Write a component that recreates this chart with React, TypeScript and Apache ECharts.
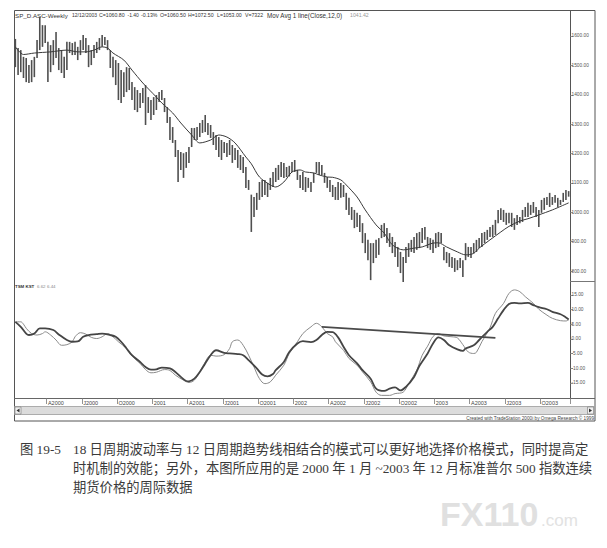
import React, { useEffect, useRef } from "react";
import * as echarts from "echarts";

// ---------- categories: weekly bars, first bar 2000-01-14, last 2003-12-12 ----------
const FIRST_WEEK = Date.UTC(2000, 0, 14);
const WEEK_COUNT = 205;
const weekDates: string[] = [];
for (let i = 0; i < WEEK_COUNT; i++) {
  const d = new Date(FIRST_WEEK + i * 7 * 86400000);
  weekDates.push(
    `${d.getUTCFullYear()}-${String(d.getUTCMonth() + 1).padStart(2, "0")}-${String(d.getUTCDate()).padStart(2, "0")}`
  );
}

// ---------- weekly price bars ----------
const highs = [
  1590, 1559, 1552, 1529, 1525, 1501, 1518, 1529, 1586, 1665, 1637, 1637, 1580, 1569, 1586, 1614, 1559, 1552, 1529, 1580,
  1580, 1576, 1580, 1563, 1586, 1603, 1593, 1569, 1552, 1569, 1580, 1593, 1603, 1597, 1586, 1552, 1529, 1518, 1508, 1484,
  1477, 1494, 1491, 1443, 1426, 1416, 1406, 1423, 1433, 1392, 1382, 1392, 1399, 1409, 1416, 1389, 1358, 1324, 1290, 1246,
  1212, 1205, 1201, 1205, 1222, 1287, 1287, 1290, 1304, 1314, 1331, 1304, 1297, 1273, 1263, 1256, 1246, 1239, 1236, 1246,
  1229, 1219, 1212, 1195, 1188, 1154, 1110, 1060, 1052, 1066, 1103, 1110, 1110, 1100, 1117, 1137, 1151, 1161, 1171, 1168,
  1154, 1158, 1171, 1178, 1144, 1127, 1137, 1120, 1117, 1103, 1134, 1171, 1171, 1161, 1134, 1120, 1110, 1093, 1086, 1103,
  1100, 1093, 1066, 1049, 1018, 1008, 998, 991, 963, 929, 906, 895, 895, 906, 912, 957, 963, 946, 929, 916,
  899, 882, 865, 848, 882, 895, 906, 916, 929, 933, 946, 950, 916, 912, 906, 929, 933, 929, 882, 865,
  861, 848, 844, 837, 844, 837, 895, 882, 882, 895, 906, 912, 929, 933, 940, 950, 957, 974, 1008, 1014,
  1008, 998, 998, 998, 980, 991, 984, 1008, 1018, 1032, 1025, 1035, 1018, 1008, 1042, 1049, 1052, 1066, 1052, 1059,
  1049, 1042, 1066, 1076, 1072,
];
const lows = [
  1494, 1467, 1477, 1457, 1443, 1440, 1443, 1460, 1525, 1552, 1563, 1576, 1443, 1477, 1501, 1525, 1484, 1474, 1457, 1484,
  1542, 1535, 1535, 1518, 1535, 1552, 1542, 1494, 1501, 1525, 1542, 1552, 1563, 1569, 1552, 1491, 1460, 1433, 1382, 1372,
  1392, 1409, 1416, 1382, 1348, 1341, 1355, 1372, 1297, 1338, 1314, 1331, 1348, 1375, 1382, 1341, 1304, 1246, 1236, 1188,
  1103, 1144, 1117, 1151, 1168, 1222, 1246, 1246, 1256, 1270, 1273, 1263, 1253, 1229, 1212, 1188, 1178, 1202, 1188, 1195,
  1168, 1178, 1151, 1144, 1134, 1083, 1076, 933, 984, 1008, 1042, 1052, 1059, 1052, 1076, 1086, 1103, 1110, 1120, 1117,
  1120, 1122, 1137, 1137, 1110, 1083, 1076, 1069, 1083, 1069, 1100, 1134, 1127, 1127, 1100, 1083, 1069, 1052, 1042, 1042,
  1049, 1052, 1008, 991, 974, 946, 950, 933, 895, 861, 837, 769, 827, 844, 855, 912, 916, 895, 882, 861,
  848, 814, 793, 763, 827, 848, 865, 861, 872, 878, 895, 906, 878, 872, 861, 878, 882, 895, 837, 827,
  814, 810, 797, 803, 810, 780, 837, 848, 844, 861, 865, 878, 882, 895, 906, 916, 916, 923, 963, 974,
  967, 957, 963, 950, 940, 957, 963, 967, 984, 984, 991, 998, 984, 950, 998, 1008, 1025, 1018, 1025, 1032,
  1018, 1025, 1035, 1042, 1053,
];

// ---------- 12-week moving average (week index, value) ----------
const maPoints: [number, number][] = [
  [0, 1563], [3, 1537], [7, 1542], [13, 1546], [19, 1552], [23, 1546], [26, 1546], [29, 1552], [32, 1563], [34, 1559],
  [36, 1542], [40, 1518], [43, 1484], [47, 1440], [52, 1392], [54, 1372], [58, 1338], [61, 1304], [65, 1263], [68, 1236],
  [72, 1246], [75, 1263], [78, 1256], [81, 1236], [85, 1188], [87, 1165], [90, 1120], [94, 1093], [96, 1086], [99, 1103],
  [102, 1137], [105, 1144], [107, 1137], [110, 1134], [112, 1127], [115, 1120], [117, 1119], [120, 1110], [122, 1093],
  [126, 1052], [129, 1008], [133, 957], [136, 929], [139, 889], [143, 872], [147, 878], [150, 882], [154, 895], [156, 896],
  [159, 882], [163, 865], [166, 855], [169, 860], [171, 878], [175, 906], [179, 933], [182, 952], [186, 970], [189, 978],
  [193, 991], [198, 1008], [204, 1032],
];

// ---------- TSM KST indicator (week index, value) ----------
const kstThick: [number, number][] = [
  [0, 5.8], [2, 4.1], [4, 1.8], [5, 1.3], [7, 1.8], [9, 3.6], [11, 3.6], [14, 3.0], [16, 1.5], [19, -0.4], [21, -1.0],
  [23, -0.9], [25, 0.7], [27, 1.3], [30, 1.6], [32, 1.8], [35, 1.3], [37, 0.7], [39, -1.0], [41, -3.3], [43, -5.6],
  [46, -7.9], [48, -9.6], [50, -10.5], [52, -10.4], [54, -9.8], [57, -10.1], [59, -11.3], [61, -13.0], [63, -14.4],
  [64, -14.5], [66, -13.6], [68, -11.3], [70, -8.4], [72, -5.6], [74, -3.9], [77, -4.8], [79, -5.0], [82, -5.2],
  [84, -5.6], [86, -7.3], [89, -10.1], [91, -12.2], [93, -12.8], [95, -12.0], [96, -10.7], [99, -7.9], [101, -4.5],
  [104, -1.6], [106, -0.8], [109, -1.1], [111, -0.4], [113, 1.3], [115, 2.4], [117, 2.3], [119, 0.5], [121, -2.7],
  [123, -5.6], [126, -8.4], [128, -10.7], [131, -13.6], [133, -17.0], [136, -17.8], [138, -17.0], [140, -16.6],
  [142, -17.6], [144, -16.4], [147, -13.0], [149, -9.2], [152, -5.0], [154, -1.6], [156, 0.5], [158, -0.4], [160, -2.2],
  [163, -3.6], [165, -4.1], [166, -3.3], [169, -2.2], [171, -0.4], [174, 2.4], [176, 4.1], [178, 7.0], [180, 9.8],
  [182, 11.9], [184, 12.3], [186, 12.1], [189, 12.3], [191, 11.5], [193, 10.8], [196, 10.1], [198, 9.2], [201, 8.4],
  [203, 7.3], [204, 6.62],
];
const kstThin: [number, number][] = [
  [0, 5.8], [2, 5.8], [3, 5.0], [4, 3.6], [6, 1.8], [8, 1.3], [10, 1.8], [11, 2.4], [13, 1.3], [15, -0.4], [17, -2.2],
  [19, -2.0], [21, -1.0], [22, 0.7], [24, 2.1], [26, 1.6], [28, 0.5], [30, 0.1], [32, 0.7], [34, 1.8], [36, 0.7],
  [38, -1.0], [41, -3.3], [43, -5.9], [46, -8.4], [48, -10.5], [50, -11.6], [52, -11.4], [55, -10.5], [57, -10.8],
  [59, -12.4], [62, -14.1], [64, -14.9], [66, -14.1], [68, -11.3], [70, -7.9], [72, -5.6], [74, -5.9], [77, -5.4],
  [79, -3.3], [80, -1.0], [82, -0.4], [84, -2.2], [86, -5.6], [88, -9.6], [90, -13.6], [92, -15.3], [94, -14.7],
  [96, -12.4], [99, -9.0], [101, -5.0], [104, -1.0], [106, 1.8], [109, 4.1], [111, 5.3], [113, 4.1], [115, 1.8],
  [117, 0.7], [118, -1.0], [121, -3.9], [123, -6.7], [126, -9.0], [128, -11.3], [131, -14.7], [133, -18.2], [135, -19.3],
  [138, -19.3], [140, -18.7], [143, -18.2], [145, -15.3], [148, -10.7], [150, -5.6], [152, -2.5], [154, 0.8], [156, 1.8],
  [158, 1.0], [161, 0.7], [163, 0.3], [165, -2.0], [167, -4.5], [169, -5.0], [170, -4.6], [172, -1.0], [175, 3.8],
  [177, 8.7], [180, 12.1], [182, 15.5], [184, 16.7], [186, 16.1], [188, 14.4], [191, 12.1], [193, 10.1], [196, 8.1],
  [198, 7.0], [201, 6.2], [203, 6.1], [204, 6.44],
];
const trendLine: [number, number][] = [
  [113, 4.1],
  [177, 0.3],
];

// ---------- tick labels ----------
const priceTicks = [800, 900, 1000, 1100, 1200, 1300, 1400, 1500, 1600];
const kstTicks = [-15, -10, -5, 0, 5, 10, 15];
const quarterPrefix: Record<number, string> = { 0: "", 3: "A", 6: "J", 9: "O" };

const headerParts: { text: string; x: number; size: number; color: string }[] = [
  { text: "SP_D.ASC-Weekly", x: 15, size: 6.2, color: "#333" },
  { text: "12/12/2003", x: 72, size: 5.0, color: "#333" },
  { text: "C=1060.80", x: 99, size: 5.2, color: "#333" },
  { text: "-1.40", x: 127.5, size: 5.0, color: "#333" },
  { text: "-0.13%", x: 141, size: 5.2, color: "#333" },
  { text: "O=1060.50", x: 160, size: 5.2, color: "#333" },
  { text: "H=1072.50", x: 188, size: 5.2, color: "#333" },
  { text: "L=1053.00", x: 217, size: 5.2, color: "#333" },
  { text: "V=7322", x: 245, size: 5.2, color: "#333" },
  { text: "Mov Avg 1 line(Close,12,0)", x: 267, size: 6.3, color: "#333" },
  { text: "1041.42", x: 350, size: 5.2, color: "#999" },
];

const captionLines = [
  "18 日周期波动率与 12 日周期趋势线相结合的模式可以更好地选择价格模式，同时提高定",
  "时机制的效能；另外，本图所应用的是 2000 年 1 月 ~2003 年 12 月标准普尔 500 指数连续",
  "期货价格的周际数据",
];

const FONT = '"Liberation Sans", Arial, sans-serif';
const CAPTION_FONT = `13.3px "Liberation Serif", "Noto Sans CJK SC", serif`;

function quarterLabel(idx: number): string | null {
  if (idx <= 0) return null;
  const [y, m] = weekDates[idx].split("-").map(Number);
  const pm = Number(weekDates[idx - 1].split("-")[1]);
  if (m === pm) return null;
  const mi = m - 1;
  if (!(mi in quarterPrefix)) return null;
  return quarterPrefix[mi] + String(y);
}

export default function App() {
  const ref = useRef<HTMLDivElement>(null);
  useEffect(() => {
    if (!ref.current) return;
    const chart = echarts.init(ref.current, undefined, { renderer: "svg" });
    const line = (x1: number, y1: number, x2: number, y2: number, stroke = "#555", w = 1) => ({
      type: "line",
      silent: true,
      shape: { x1, y1, x2, y2 },
      style: { stroke, lineWidth: w },
    });
    const graphics: any[] = [
      {
        type: "rect",
        silent: true,
        shape: { x: 14.5, y: 10.5, width: 580.5, height: 410.5 },
        style: { fill: "none", stroke: "#555", lineWidth: 1 },
      },
      line(570.5, 10, 570.5, 398),
      line(570, 281.5, 595, 281.5, "#777"),
      line(14, 398.5, 595, 398.5, "#666"),
      {
        type: "rect",
        silent: true,
        shape: { x: 14.5, y: 406.5, width: 580, height: 8 },
        style: { fill: "#dcdcdc", stroke: "#9a9a9a", lineWidth: 0.8 },
      },
      {
        type: "rect",
        silent: true,
        shape: { x: 15, y: 407, width: 6, height: 7 },
        style: { fill: "#efefef", stroke: "#777", lineWidth: 0.6 },
      },
      {
        type: "polygon",
        silent: true,
        shape: { points: [[16.5, 410.5], [19.5, 408.5], [19.5, 412.5]] },
        style: { fill: "#333" },
      },
      {
        type: "rect",
        silent: true,
        shape: { x: 587.5, y: 407, width: 6, height: 7 },
        style: { fill: "#efefef", stroke: "#777", lineWidth: 0.6 },
      },
      {
        type: "polygon",
        silent: true,
        shape: { points: [[592, 410.5], [589, 408.5], [589, 412.5]] },
        style: { fill: "#333" },
      },
      {
        type: "text",
        silent: true,
        style: {
          text: "Created with TradeStation 2000i by Omega Research © 1999",
          x: 594,
          y: 418.3,
          align: "right",
          verticalAlign: "middle",
          font: `4.7px ${FONT}`,
          fill: "#444",
        },
      },
      ...headerParts.map((p) => ({
        type: "text",
        silent: true,
        style: { text: p.text, x: p.x, y: 15, verticalAlign: "middle", font: `${p.size}px ${FONT}`, fill: p.color },
      })),
      {
        type: "text",
        silent: true,
        style: { text: "TSM KST", x: 15, y: 286.5, verticalAlign: "middle", font: `bold 4.4px ${FONT}`, fill: "#333" },
      },
      {
        type: "text",
        silent: true,
        style: { text: "6.62", x: 37, y: 286.5, verticalAlign: "middle", font: `4.4px ${FONT}`, fill: "#888" },
      },
      {
        type: "text",
        silent: true,
        style: { text: "6.44", x: 47, y: 286.5, verticalAlign: "middle", font: `4.4px ${FONT}`, fill: "#888" },
      },
      {
        type: "text",
        silent: true,
        style: { text: "图 19-5", x: 20, y: 449, verticalAlign: "middle", font: CAPTION_FONT, fill: "#3a3a3a" },
      },
      ...captionLines.map((t, k) => ({
        type: "text",
        silent: true,
        style: { text: t, x: 73, y: 449 + k * 19, verticalAlign: "middle", font: CAPTION_FONT, fill: "#3a3a3a" },
      })),
      {
        type: "text",
        silent: true,
        style: { text: "FX110", x: 440, y: 531, verticalAlign: "bottom", font: `bold 34px ${FONT}`, fill: "#e0e0e0" },
      },
      {
        type: "text",
        silent: true,
        style: { text: ".com", x: 541, y: 529, verticalAlign: "bottom", font: `17px ${FONT}`, fill: "#e2e2e2" },
      },
    ];

    const option: any = {
      animation: false,
      backgroundColor: "#ffffff",
      grid: [
        { left: 14, top: 10, width: 556, height: 272 },
        { left: 14, top: 282, width: 556, height: 116 },
      ],
      xAxis: [
        {
          type: "category",
          gridIndex: 0,
          data: weekDates,
          boundaryGap: true,
          axisLine: { show: false, onZero: false },
          axisTick: { show: false },
          axisLabel: { show: false },
          splitLine: { show: false },
        },
        {
          type: "category",
          gridIndex: 1,
          position: "bottom",
          data: weekDates,
          boundaryGap: true,
          axisLine: { show: false, onZero: false },
          axisTick: {
            show: true,
            interval: (i: number) => quarterLabel(i) !== null,
            length: 6,
            lineStyle: { color: "#777", width: 0.8 },
          },
          axisLabel: {
            interval: (i: number) => quarterLabel(i) !== null,
            formatter: (_v: string, i: number) => quarterLabel(i) ?? "",
            fontSize: 5.5,
            fontFamily: FONT,
            color: "#444",
            align: "left",
            verticalAlign: "top",
            margin: 1.5,
          },
          splitLine: { show: false },
        },
      ],
      yAxis: [
        {
          type: "value",
          gridIndex: 0,
          position: "right",
          min: 762.6,
          max: 1688.5,
          axisLine: { show: false },
          axisTick: { show: true, length: 3, customValues: priceTicks, lineStyle: { color: "#777", width: 0.8 } },
          axisLabel: {
            customValues: priceTicks,
            formatter: (v: number) => v.toFixed(2),
            fontSize: 4.8,
            fontFamily: FONT,
            color: "#555",
            margin: 1.5,
          },
          splitLine: { show: false },
        },
        {
          type: "value",
          gridIndex: 1,
          position: "right",
          min: -20.2,
          max: 19.4,
          axisLine: { show: false },
          axisTick: { show: true, length: 3, customValues: kstTicks, lineStyle: { color: "#777", width: 0.8 } },
          axisLabel: {
            customValues: kstTicks,
            formatter: (v: number) => v.toFixed(2),
            fontSize: 4.8,
            fontFamily: FONT,
            color: "#555",
            margin: 1.5,
          },
          splitLine: { show: false },
        },
      ],
      series: [
        {
          type: "custom",
          name: "bars",
          xAxisIndex: 0,
          yAxisIndex: 0,
          clip: true,
          encode: { x: 0, y: [1, 2] },
          data: highs.map((h, i) => [i, h, lows[i]]),
          renderItem: (_params: any, api: any) => {
            const idx = api.value(0);
            const hi = api.coord([idx, api.value(1)]);
            const lo = api.coord([idx, api.value(2)]);
            return {
              type: "line",
              shape: { x1: hi[0], y1: hi[1], x2: lo[0], y2: lo[1] },
              style: { stroke: "#4f4f4f", lineWidth: 1.6 },
            };
          },
        },
        {
          type: "line",
          name: "Mov Avg",
          xAxisIndex: 0,
          yAxisIndex: 0,
          data: maPoints,
          smooth: 0.3,
          showSymbol: false,
          lineStyle: { color: "#3a3a3a", width: 1 },
        },
        {
          type: "line",
          name: "KST thin",
          xAxisIndex: 1,
          yAxisIndex: 1,
          data: kstThin,
          smooth: 0.35,
          showSymbol: false,
          lineStyle: { color: "#8a8a8a", width: 1 },
        },
        {
          type: "line",
          name: "KST",
          xAxisIndex: 1,
          yAxisIndex: 1,
          data: kstThick,
          smooth: 0.35,
          showSymbol: false,
          lineStyle: { color: "#454545", width: 1.8 },
        },
        {
          type: "line",
          name: "trend",
          xAxisIndex: 1,
          yAxisIndex: 1,
          data: trendLine,
          showSymbol: false,
          lineStyle: { color: "#4a4a4a", width: 1.8 },
        },
      ],
      graphic: graphics,
    };
    chart.setOption(option);
    return () => chart.dispose();
  }, []);

  return (
    <div
      ref={ref}
      style={{ position: "absolute", left: 0, top: 0, width: 607, height: 548, background: "#fff" }}
    />
  );
}
